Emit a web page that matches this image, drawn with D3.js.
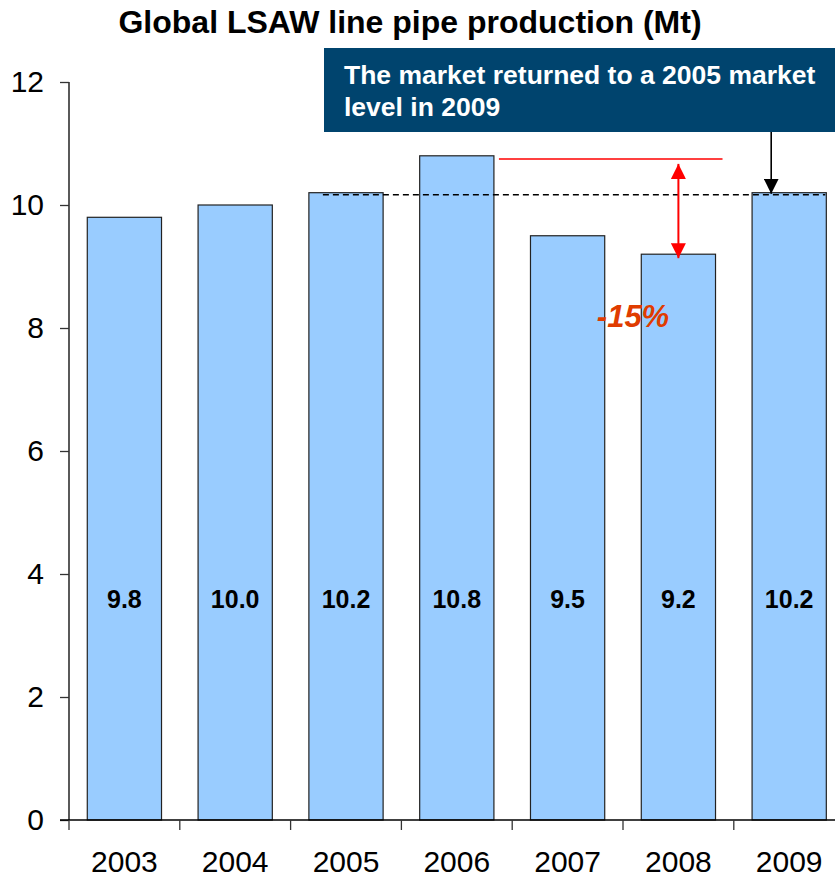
<!DOCTYPE html>
<html>
<head>
<meta charset="utf-8">
<script src="https://cdn.jsdelivr.net/npm/d3@7"></script>
<style>
  body { margin: 0; background: #fff; }
  svg { display: block; font-family: "Liberation Sans", Arial, sans-serif; }
</style>
</head>
<body>
<div id="graphic"></div>
<script>
// chart data
const years = ["2003", "2004", "2005", "2006", "2007", "2008", "2009"];
const production = [9.8, 10.0, 10.2, 10.8, 9.5, 9.2, 10.2];
const valueLabels = ["9.8", "10.0", "10.2", "10.8", "9.5", "9.2", "10.2"];
const yTicks = [0, 2, 4, 6, 8, 10, 12];

const chartTitle = "Global LSAW line pipe production (Mt)";
const calloutLines = ["The market returned to a 2005 market", "level in 2009"];
const dropLabel = "-15%";

const W = 835, H = 878;
const svg = d3.select("#graphic").append("svg")
  .attr("width", W)
  .attr("height", H);

const defs = svg.append("defs");
function marker(id, color, size){
  defs.append("marker")
    .attr("id", id)
    .attr("viewBox", "0 0 10 10")
    .attr("refX", 10).attr("refY", 5)
    .attr("markerWidth", size).attr("markerHeight", size)
    .attr("markerUnits", "userSpaceOnUse")
    .attr("orient", "auto-start-reverse")
    .append("path")
    .attr("d", "M0,0 L10,5 L0,10 Z")
    .attr("fill", color);
}
marker("arrRed", "#ff0000", 15);
marker("arrBlack", "#000", 15);

const x = d3.scaleBand()
  .domain(years)
  .range([69, 69 + 110.8 * years.length])
  .paddingInner(0.33)
  .paddingOuter(0.165);

const y = d3.scaleLinear()
  .domain([0, 12])
  .range([820, 82]);

// title
svg.append("text")
  .attr("x", 410).attr("y", 33)
  .attr("text-anchor", "middle")
  .attr("font-size", 32).attr("font-weight", "bold")
  .text(chartTitle);

// bars
svg.append("g").selectAll("rect")
  .data(production)
  .enter().append("rect")
  .attr("x", (d, i) => x(years[i]))
  .attr("y", d => y(d))
  .attr("width", x.bandwidth())
  .attr("height", d => y(0) - y(d))
  .attr("fill", "#99ccff")
  .attr("stroke", "#222")
  .attr("stroke-width", 1.2);

// value labels inside bars
svg.append("g").selectAll("text")
  .data(valueLabels)
  .enter().append("text")
  .attr("x", (d, i) => x(years[i]) + x.bandwidth() / 2)
  .attr("y", y(3.6) + 9)
  .attr("text-anchor", "middle")
  .attr("font-size", 25).attr("font-weight", "bold")
  .text(d => d);

// y axis
const yAxis = svg.append("g")
  .attr("transform", "translate(69,0)")
  .call(d3.axisLeft(y).tickValues(yTicks).tickSize(9).tickPadding(16).tickFormat(d3.format("d")));
yAxis.selectAll("text").attr("font-size", 30).attr("font-family", "Liberation Sans, Arial, sans-serif").attr("fill", "#000");
yAxis.select(".domain").attr("d", `M0,${y(12)}V${y(0)}`).attr("stroke", "#000").attr("stroke-width", 1.3);
yAxis.selectAll(".tick line").attr("stroke", "#333").attr("stroke-width", 1.3);

// x axis: ticks between categories
const xg = svg.append("g");
xg.append("line")
  .attr("x1", 60).attr("x2", x.range()[1])
  .attr("y1", y(0)).attr("y2", y(0))
  .attr("stroke", "#000").attr("stroke-width", 1.3);
const boundaries = years.map(yr => x(yr) - x.step() * x.paddingOuter());
boundaries.push(x.range()[1]);
xg.selectAll("line.sep")
  .data(boundaries)
  .enter().append("line")
  .attr("class", "sep")
  .attr("x1", d => d).attr("x2", d => d)
  .attr("y1", y(0)).attr("y2", y(0) + 10)
  .attr("stroke", "#333").attr("stroke-width", 1.3);
xg.selectAll("text")
  .data(years)
  .enter().append("text")
  .attr("x", d => x(d) + x.bandwidth() / 2)
  .attr("y", 872)
  .attr("text-anchor", "middle")
  .attr("font-size", 30)
  .text(d => d);

// dashed reference line at the 2005 level
svg.append("line")
  .attr("x1", x("2005") + 14).attr("x2", x("2009") + x.bandwidth() - 1)
  .attr("y1", y(production[2]) + 2).attr("y2", y(production[2]) + 2)
  .attr("stroke", "#000").attr("stroke-width", 1.6)
  .attr("stroke-dasharray", "6,4");

// red peak line and double arrow
svg.append("line")
  .attr("x1", x("2006") + x.bandwidth() + 5).attr("x2", x("2008") + x.bandwidth() + 7)
  .attr("y1", y(10.75)).attr("y2", y(10.75))
  .attr("stroke", "#ff0000").attr("stroke-width", 1.5);
const arrowX = x("2008") + x.bandwidth() / 2;
svg.append("line")
  .attr("x1", arrowX).attr("x2", arrowX)
  .attr("y1", y(10.75) + 5).attr("y2", y(production[5]) + 4)
  .attr("stroke", "#ff0000").attr("stroke-width", 2)
  .attr("marker-start", "url(#arrRed)")
  .attr("marker-end", "url(#arrRed)");

svg.append("text")
  .attr("x", 633).attr("y", 327)
  .attr("text-anchor", "middle")
  .attr("font-size", 31).attr("font-weight", "bold").attr("font-style", "italic")
  .attr("fill", "#e03c00")
  .text(dropLabel);

// callout box
svg.append("rect")
  .attr("x", 324).attr("y", 48)
  .attr("width", 530).attr("height", 84)
  .attr("fill", "#00446e");
svg.append("g").selectAll("text")
  .data(calloutLines)
  .enter().append("text")
  .attr("x", 344)
  .attr("y", (d, i) => 84 + i * 32)
  .attr("fill", "#fff")
  .attr("font-size", 26.5).attr("font-weight", "bold")
  .text(d => d);

const calloutX = x("2009") + x.bandwidth() / 2 - 18;
svg.append("line")
  .attr("x1", calloutX).attr("x2", calloutX)
  .attr("y1", 132).attr("y2", y(production[6]) + 1)
  .attr("stroke", "#000").attr("stroke-width", 1.6)
  .attr("marker-end", "url(#arrBlack)");
</script>
</body>
</html>
